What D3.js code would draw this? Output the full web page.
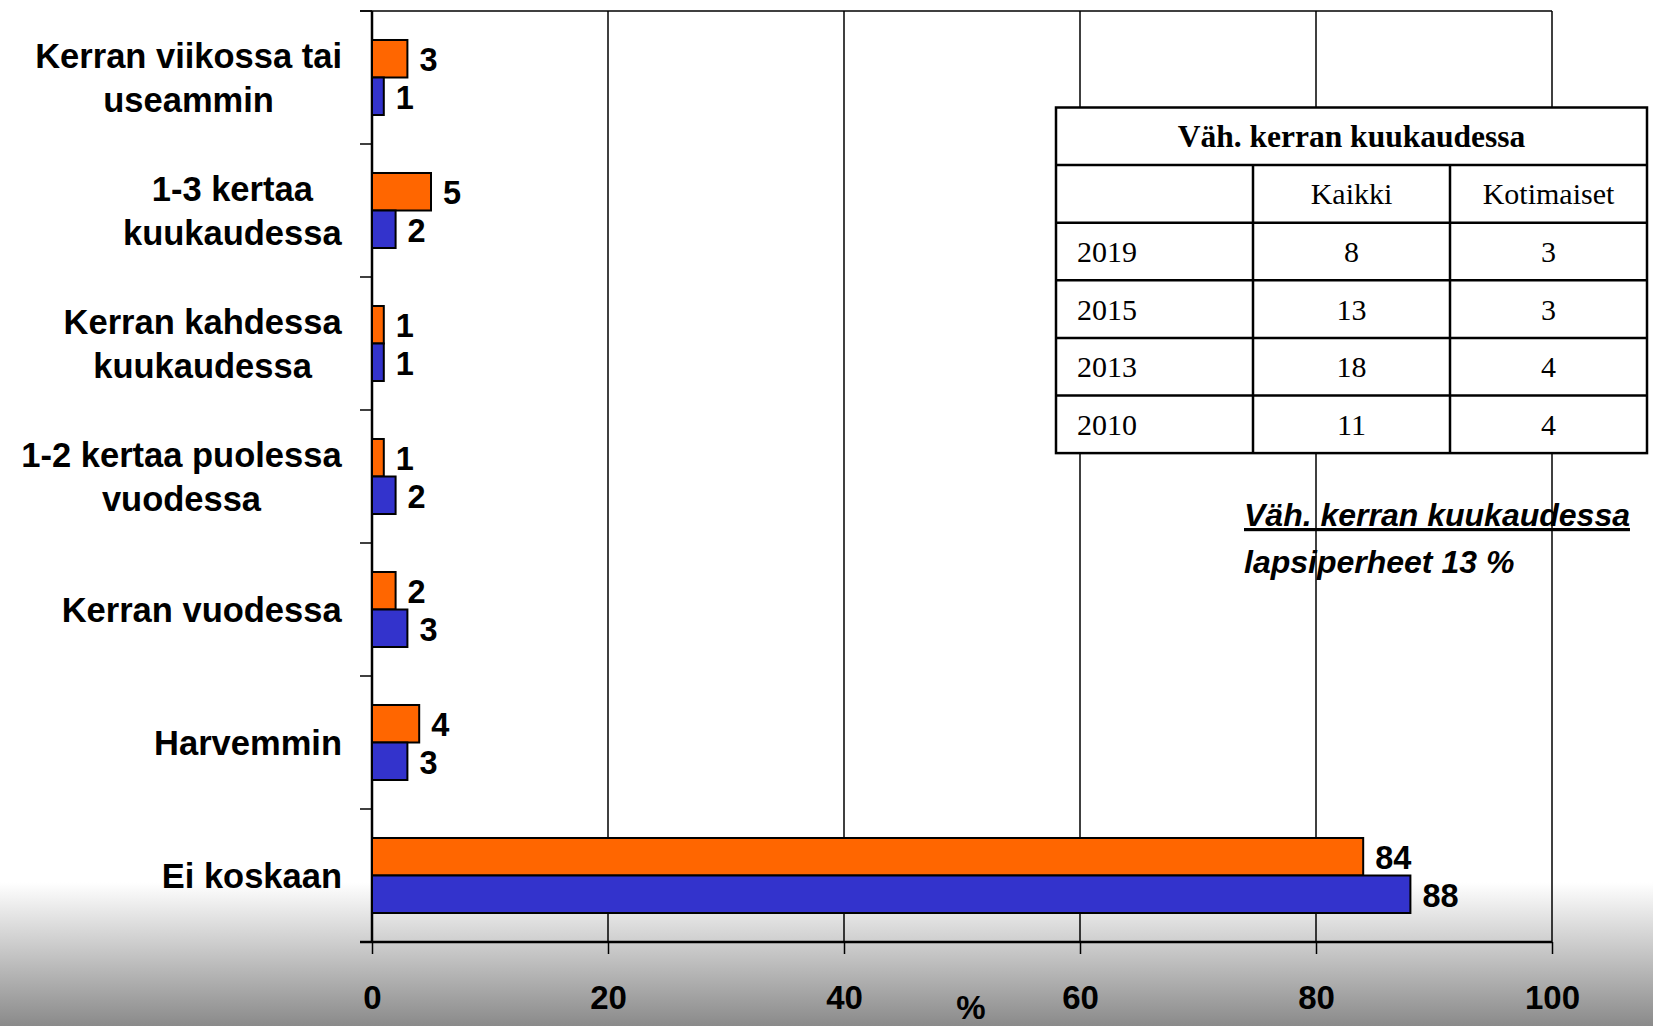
<!DOCTYPE html>
<html>
<head>
<meta charset="utf-8">
<script src="https://cdn.jsdelivr.net/npm/d3@7"></script>
<style>
  body { margin: 0; background: #fff; }
  svg { display: block; }
</style>
</head>
<body>
<div id="grafik"></div>
<script>
// luokat ja sarjat
const categories = [
  ["Kerran viikossa tai", "useammin"],
  ["1-3 kertaa", "kuukaudessa"],
  ["Kerran kahdessa", "kuukaudessa"],
  ["1-2 kertaa puolessa", "vuodessa"],
  ["Kerran vuodessa"],
  ["Harvemmin"],
  ["Ei koskaan"]
];
const kaikki = [3, 5, 1, 1, 2, 4, 84];
const kotimaiset = [1, 2, 1, 2, 3, 3, 88];
const xTicks = [0, 20, 40, 60, 80, 100];

// taulukko
const tableTitle = "Väh. kerran kuukaudessa";
const tableHeader = ["", "Kaikki", "Kotimaiset"];
const tableYears = ["2019", "2015", "2013", "2010"];
const tableKaikki = [8, 13, 18, 11];
const tableKotimaiset = [3, 3, 4, 4];

const noteLine1 = "Väh. kerran kuukaudessa";
const noteLine2 = "lapsiperheet 13 %";

const W = 1653, H = 1026;
const margin = {top: 11, right: 101, bottom: 84, left: 372};
const w = W - margin.left - margin.right;
const h = H - margin.top - margin.bottom;

const svg = d3.select("#grafik").append("svg")
  .attr("width", W).attr("height", H);

// harmaa liukuväri alareunaan
const grad = svg.append("defs").append("linearGradient")
  .attr("id", "bg").attr("x1", 0).attr("y1", 0).attr("x2", 0).attr("y2", 1);
grad.append("stop").attr("offset", "0%").attr("stop-color", "#ffffff");
grad.append("stop").attr("offset", "86%").attr("stop-color", "#ffffff");
grad.append("stop").attr("offset", "100%").attr("stop-color", "#8a8a8a");
svg.append("rect").attr("width", W).attr("height", H).attr("fill", "url(#bg)");

const g = svg.append("g").attr("transform", `translate(${margin.left},${margin.top})`);

const x = d3.scaleLinear().domain([0, 100]).range([0, w]);
const y = d3.scaleBand().domain(d3.range(categories.length)).range([0, h]);
const sub = d3.scaleBand().domain(["kaikki", "kotimaiset"])
  .range([0, y.bandwidth()]).paddingOuter(0.773);
const color = {kaikki: "#ff6600", kotimaiset: "#3333cc"};

// pystyviivat
g.append("g")
  .selectAll("line")
  .data(xTicks.filter(d => d > 0))
  .join("line")
  .attr("x1", d => x(d)).attr("x2", d => x(d))
  .attr("y1", 0).attr("y2", h)
  .attr("stroke", "#000").attr("stroke-width", 1.5);

// yläreuna
g.append("line")
  .attr("x1", -12).attr("x2", w).attr("y1", 0).attr("y2", 0)
  .attr("stroke", "#000").attr("stroke-width", 1.5);

// x-akseli
const xAxis = g.append("g")
  .attr("transform", `translate(0,${h})`)
  .call(d3.axisBottom(x).tickValues(xTicks).tickSize(12).tickPadding(32));
xAxis.select(".domain").attr("stroke-width", 2.5).attr("d", `M-12,0H${w}`);
xAxis.selectAll(".tick line").attr("stroke-width", 1.5);
xAxis.selectAll(".tick text")
  .attr("font-family", "Liberation Sans, Arial, sans-serif")
  .attr("font-weight", "bold").attr("font-size", 33).attr("fill", "#000");

// y-akseli
const yAxis = g.append("g")
  .call(d3.axisLeft(y).tickSize(0).tickFormat(""));
yAxis.select(".domain").attr("stroke-width", 2.5).attr("d", `M0,0V${h}`);
g.append("g")
  .selectAll("line")
  .data(d3.range(categories.length + 1))
  .join("line")
  .attr("x1", -12).attr("x2", 0)
  .attr("y1", i => i * y.step()).attr("y2", i => i * y.step())
  .attr("stroke", "#000").attr("stroke-width", 1.5);

// luokkien nimet
const labels = g.append("g")
  .attr("font-family", "Liberation Sans, Arial, sans-serif")
  .attr("font-weight", "bold").attr("font-size", 34.5).attr("fill", "#000");
categories.forEach((lines, i) => {
  const t = labels.append("text").attr("text-anchor", "middle");
  lines.forEach((ln, j) => {
    t.append("tspan").attr("x", 0)
      .attr("y", y(i) + y.bandwidth() / 2 + 12.5 + (j - (lines.length - 1) / 2) * 44)
      .text(ln);
  });
  const bw = t.node().getBBox().width;
  t.selectAll("tspan").attr("x", -30 - bw / 2);
});

// palkit
const rows = categories.map((c, i) => ({i, kaikki: kaikki[i], kotimaiset: kotimaiset[i]}));
const series = ["kaikki", "kotimaiset"];
series.forEach(s => {
  g.append("g").selectAll("rect")
    .data(rows)
    .join("rect")
    .attr("x", x(0))
    .attr("y", d => y(d.i) + sub(s))
    .attr("width", d => x(d[s]) - x(0))
    .attr("height", sub.bandwidth())
    .attr("fill", color[s])
    .attr("stroke", "#000").attr("stroke-width", 2);

  g.append("g").selectAll("text")
    .data(rows)
    .join("text")
    .attr("x", d => x(d[s]) + 12)
    .attr("y", d => y(d.i) + sub(s) + sub.bandwidth() / 2 + 12.5)
    .attr("font-family", "Liberation Sans, Arial, sans-serif")
    .attr("font-weight", "bold").attr("font-size", 32.5).attr("fill", "#000")
    .text(d => d[s]);
});

// x-akselin otsikko
svg.append("text")
  .attr("x", 971).attr("y", 1019)
  .attr("text-anchor", "middle")
  .attr("font-family", "Liberation Sans, Arial, sans-serif")
  .attr("font-weight", "bold").attr("font-size", 33)
  .text("%");

// taulukko
const tb = {x: 1056, y: 107.5, colW: 197, rowH: 57.6};
const tg = svg.append("g").attr("font-family", "Liberation Serif, Times New Roman, serif")
  .attr("font-size", 30).attr("fill", "#000");
const nRows = tableYears.length + 2;
tg.append("rect")
  .attr("x", tb.x).attr("y", tb.y)
  .attr("width", tb.colW * 3).attr("height", tb.rowH * nRows)
  .attr("fill", "#fff").attr("stroke", "#000").attr("stroke-width", 2.5);
d3.range(1, nRows).forEach(r => {
  tg.append("line")
    .attr("x1", tb.x).attr("x2", tb.x + tb.colW * 3)
    .attr("y1", tb.y + r * tb.rowH).attr("y2", tb.y + r * tb.rowH)
    .attr("stroke", "#000").attr("stroke-width", 2.5);
});
[1, 2].forEach(c => {
  tg.append("line")
    .attr("x1", tb.x + c * tb.colW).attr("x2", tb.x + c * tb.colW)
    .attr("y1", tb.y + tb.rowH).attr("y2", tb.y + tb.rowH * nRows)
    .attr("stroke", "#000").attr("stroke-width", 2.5);
});
tg.append("text")
  .attr("x", tb.x + tb.colW * 1.5).attr("y", tb.y + tb.rowH / 2 + 11)
  .attr("text-anchor", "middle").attr("font-weight", "bold").attr("font-size", 31.5)
  .text(tableTitle);
tableHeader.forEach((t, c) => {
  tg.append("text")
    .attr("x", tb.x + (c + 0.5) * tb.colW).attr("y", tb.y + tb.rowH * 1.5 + 10.5)
    .attr("text-anchor", "middle").text(t);
});
tableYears.forEach((yr, r) => {
  const cy = tb.y + tb.rowH * (r + 2.5) + 10.5;
  tg.append("text").attr("x", tb.x + 21).attr("y", cy).text(yr);
  tg.append("text").attr("x", tb.x + 1.5 * tb.colW).attr("y", cy)
    .attr("text-anchor", "middle").text(tableKaikki[r]);
  tg.append("text").attr("x", tb.x + 2.5 * tb.colW).attr("y", cy)
    .attr("text-anchor", "middle").text(tableKotimaiset[r]);
});

// huomautus
const note = svg.append("g")
  .attr("font-family", "Liberation Sans, Arial, sans-serif")
  .attr("font-weight", "bold").attr("font-style", "italic").attr("font-size", 32);
note.append("text").attr("x", 1244).attr("y", 526)
  .attr("text-decoration", "underline").text(noteLine1);
note.append("text").attr("x", 1244).attr("y", 573).text(noteLine2);
</script>
</body>
</html>
